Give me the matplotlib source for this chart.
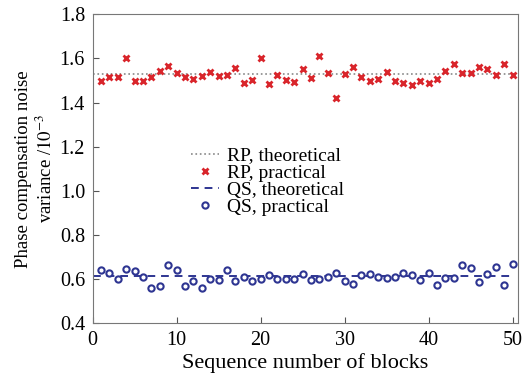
import numpy as np
import matplotlib.pyplot as plt

# block index
blocks = np.arange(1, 51)

# RP (random pilot) practical noise variance, x1e-3
rp_practical = [1.499, 1.514, 1.517, 1.604, 1.496, 1.497, 1.514, 1.543, 1.567, 1.532,
                1.514, 1.508, 1.519, 1.537, 1.521, 1.526, 1.556, 1.491, 1.503, 1.604,
                1.485, 1.526, 1.501, 1.494, 1.554, 1.511, 1.613, 1.532, 1.421, 1.529,
                1.561, 1.515, 1.496, 1.508, 1.538, 1.500, 1.491, 1.479, 1.499, 1.491,
                1.506, 1.543, 1.574, 1.534, 1.532, 1.561, 1.550, 1.523, 1.573, 1.523]

# QS practical noise variance, x1e-3
qs_practical = [0.642, 0.626, 0.602, 0.644, 0.638, 0.608, 0.558, 0.567, 0.662, 0.641,
                0.570, 0.591, 0.561, 0.599, 0.597, 0.641, 0.591, 0.611, 0.590, 0.602,
                0.618, 0.599, 0.599, 0.599, 0.624, 0.594, 0.602, 0.611, 0.629, 0.591,
                0.576, 0.618, 0.622, 0.608, 0.606, 0.612, 0.627, 0.618, 0.597, 0.627,
                0.575, 0.606, 0.606, 0.665, 0.651, 0.588, 0.624, 0.657, 0.572, 0.668]

rp_theory = 1.53
qs_theory = 0.615

plt.rcParams['font.family'] = ['Liberation Serif', 'DejaVu Serif']
plt.rcParams['mathtext.fontset'] = 'stix'

fig = plt.figure(figsize=(5.25, 3.74), dpi=100)
ax = fig.add_axes([92.7/525, 1 - 323.3/374, 425/525, 309/374])

ax.plot([0, 50], [rp_theory, rp_theory], ':', color='#888888', lw=1.2, label='RP, theoretical')
ax.plot(blocks, rp_practical, 'x', color='#d9252b', ms=4.5, mew=2, ls='none', label='RP, practical')
ax.plot([0, 50], [qs_theory, qs_theory], '--', color='#2e3592', lw=1.4, dashes=(4, 3), label='QS, theoretical')
ax.plot(blocks, qs_practical, 'o', color='#2e3592', mfc='white', ms=4.5, mew=1.5, ls='none', label='QS, practical')

ax.set_xlim(0, 50.6)
ax.set_ylim(0.4, 1.8)
ax.set_xticks(np.arange(0, 51, 10))
ax.set_yticks(np.arange(0.4, 1.81, 0.2))
ax.set_yticklabels(['%.1f' % v for v in np.arange(0.4, 1.81, 0.2)])
ax.tick_params(direction='in', labelsize=14.5, length=4, color='#555555', pad=5.5,
               top=False, right=False)
for s in ax.spines.values():
    s.set_color('#777777')
    s.set_linewidth(0.8)

ax.set_xlabel('Sequence number of blocks', fontsize=16, labelpad=2)
ax.set_ylabel('Phase compensation noise\nvariance /$10^{-3}$', fontsize=13.5, labelpad=3)

ax.legend(loc='upper left', bbox_to_anchor=(0.2, 0.615), frameon=False, fontsize=14,
          handlelength=1.4, handletextpad=0.45, labelspacing=-0.02, borderpad=0.2)

plt.savefig('out.png', dpi=100)
